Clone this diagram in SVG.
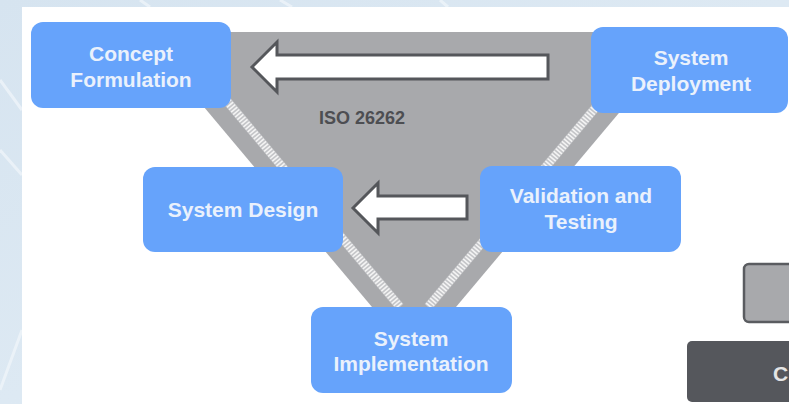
<svg xmlns="http://www.w3.org/2000/svg" width="789" height="404" viewBox="0 0 789 404">
<style>
.box{fill:#66a3fb}
.lbl{font-family:"Liberation Sans",Arial,sans-serif;font-weight:bold;font-size:21px;fill:#eaf1fc;text-anchor:middle}
.iso{font-family:"Liberation Sans",Arial,sans-serif;font-weight:bold;font-size:18px;fill:#4d4e52}
.arrow{fill:#ffffff;stroke:#55575b;stroke-width:3;stroke-linejoin:miter}
.hatchbase{stroke:#c4c5c8;stroke-width:9}
.hatch{stroke:#f4f4f4;stroke-width:8;stroke-dasharray:1.6 1.6}
</style>
<defs>
<linearGradient id="bg" x1="0" y1="0" x2="1" y2="1">
<stop offset="0" stop-color="#d6e4f0"/>
<stop offset="1" stop-color="#e4eef6"/>
</linearGradient>
</defs>
<rect width="789" height="404" fill="url(#bg)"/>
<g stroke="#f2f7fb" stroke-width="3" opacity="0.7">
<line x1="0" y1="80" x2="22" y2="110"/>
<line x1="0" y1="150" x2="22" y2="175"/>
<line x1="0" y1="390" x2="22" y2="330"/>
<line x1="140" y1="0" x2="150" y2="7"/>
<line x1="280" y1="0" x2="292" y2="7"/>
<line x1="440" y1="0" x2="448" y2="7"/>
</g>
<rect x="22" y="7" width="767" height="397" fill="#ffffff"/>
<g id="vshape">
<polygon points="141,32 687,32 414,357" fill="#a8a9ac"/>
<line class="hatchbase" x1="192.5" y1="60" x2="400" y2="307"/>
<line class="hatch" x1="192.5" y1="60" x2="400" y2="307"/>
<line class="hatchbase" x1="635.5" y1="60" x2="428" y2="307"/>
<line class="hatch" x1="635.5" y1="60" x2="428" y2="307"/>
<text class="iso" x="319" y="124">ISO 26262</text>
</g>
<g id="connectors">
<polygon class="arrow" points="252,67 277,42 277,55 548,55 548,79 277,79 277,92"/>
<polygon class="arrow" points="353,208 378,183 378,196 467,196 467,219 378,219 378,233"/>
</g>
<g id="concept">
<rect class="box" x="31" y="22" width="200" height="86" rx="12"/>
<text class="lbl" x="131" y="61">Concept</text>
<text class="lbl" x="131" y="87">Formulation</text>
</g>
<g id="deployment">
<rect class="box" x="591" y="27" width="197" height="86" rx="12"/>
<text class="lbl" x="691" y="65">System</text>
<text class="lbl" x="691" y="91">Deployment</text>
</g>
<g id="design">
<rect class="box" x="143" y="167" width="200" height="85" rx="12"/>
<text class="lbl" x="243" y="217">System Design</text>
</g>
<g id="validation">
<rect class="box" x="480" y="166" width="201" height="86" rx="12"/>
<text class="lbl" x="581" y="203">Validation and</text>
<text class="lbl" x="581" y="229">Testing</text>
</g>
<g id="implementation">
<rect class="box" x="311" y="307" width="201" height="86" rx="12"/>
<text class="lbl" x="411" y="346">System</text>
<text class="lbl" x="411" y="371">Implementation</text>
</g>
<g id="legend-gray">
<rect x="744" y="264" width="60" height="58" rx="5" fill="#a8a9ac" stroke="#5a5c60" stroke-width="2.5"/>
</g>
<g id="legend-dark">
<rect x="687" y="341" width="120" height="61" rx="5" fill="#55575c"/>
<text class="lbl" x="773" y="381" style="text-anchor:start;fill:#e4e4e4">C</text>
</g>
</svg>
